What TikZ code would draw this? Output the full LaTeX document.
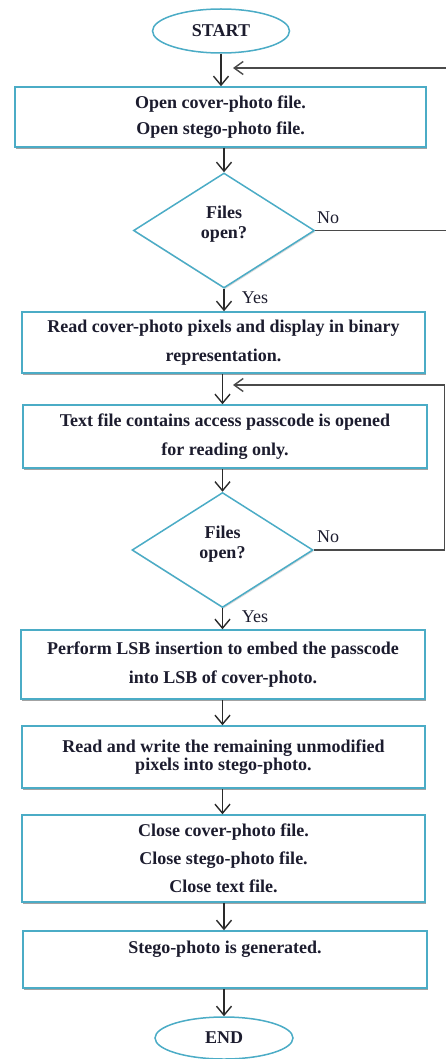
\documentclass[tikz,border=0pt]{standalone}
\usepackage{fontspec}
\setmainfont{Liberation Serif}
\usetikzlibrary{shapes.geometric,arrows.meta,shadows}

\definecolor{boxblue}{HTML}{4BACC6}
\definecolor{inkdark}{HTML}{1C1C2E}
\definecolor{flowline}{HTML}{2A2A2A}
\definecolor{loopline}{HTML}{4A4A4A}

\tikzset{
  proc/.style={rectangle, draw=boxblue, line width=1.5pt, fill=white,
    align=center, inner sep=0pt, text=inkdark,
    font=\fontsize{18}{22}\selectfont\bfseries,
    drop shadow={shadow xshift=0.8pt, shadow yshift=-2pt, fill=black!45, opacity=0.8}},
  term/.style={ellipse, draw=boxblue, line width=1.5pt, fill=white,
    inner sep=0pt, text=inkdark, font=\fontsize{18}{22}\selectfont\bfseries},
  decide/.style={diamond, draw=boxblue, line width=1.5pt, fill=white,
    inner sep=0pt, minimum width=181pt, minimum height=115pt,
    drop shadow={shadow xshift=0.8pt, shadow yshift=-1.5pt, fill=black!25, opacity=0.6}},
  dtext/.style={align=center, inner sep=0pt, text=inkdark,
    font=\fontsize{18}{22}\selectfont\bfseries},
  lbl/.style={inner sep=0pt, text=inkdark, font=\fontsize{18}{22}\selectfont},
  arr/.style={draw=flowline, line width=1.4pt,
    -{Straight Barb[length=9pt,width=15pt,line width=1.4pt]}},
  looparr/.style={draw=loopline, line width=1.8pt,
    -{Straight Barb[length=9pt,width=13pt,line width=1.4pt]}},
}

\begin{document}
\begin{tikzpicture}[x=1pt,y=-1pt]
\useasboundingbox (0,0) rectangle (446,1059);

% terminals
\node[term, minimum width=137pt, minimum height=44pt] (start) at (221,31) {START};
\node[term, minimum width=138pt, minimum height=42pt] (end) at (224,1038) {END};

% process steps
\node[proc, minimum width=411pt, minimum height=60pt] (b1) at (220.5,117)
  {Open cover-photo file.\\[4pt]Open stego-photo file.};
\node[decide] (d1) at (224,230.5) {};
\node[dtext] (d1t) at ([yshift=6pt]d1.center) {Files\\[-2pt]open?};

\node[proc, minimum width=403pt, minimum height=61pt] (b2) at (223.5,342.5)
  {Read cover-photo pixels and display in binary\\[7pt]representation.};
\node[proc, minimum width=404pt, minimum height=63pt] (b3) at (225,436.5)
  {Text file contains access passcode is opened\\[7pt]for reading only.};
\node[decide] (d2) at (222.5,550) {};
\node[dtext] (d2t) at ([yshift=6pt]d2.center) {Files\\[-2pt]open?};

\node[proc, minimum width=404pt, minimum height=69pt] (b4) at (223,664.5)
  {Perform LSB insertion to embed the passcode\\[7pt]into LSB of cover-photo.};
\node[proc, minimum width=403pt, minimum height=62pt] (b5) at (223.5,757)
  {Read and write the remaining unmodified\\[-4pt]pixels into stego-photo.};
\node[proc, minimum width=403pt, minimum height=87pt] (b6) at (223.5,858.5)
  {Close cover-photo file.\\[6pt]Close stego-photo file.\\[6pt]Close text file.};
\node[proc, minimum width=404pt, minimum height=57pt] (b7) at (225,959.5)
  {Stego-photo is generated.\\[3pt]~};

% branch labels
\node[lbl] (no1) at (328,218) {No};
\node[lbl] (yes1) at (255,298) {Yes};
\node[lbl] (no2) at (328,537) {No};
\node[lbl] (yes2) at (255,617) {Yes};

% main flow
\draw[arr] (start.south) -- (start.south |- b1.north);
\draw[arr] (b1.south -| d1.north) -- (d1.north);
\draw[arr] (d1.south) -- (d1.south |- b2.north);
\draw[arr] (b2.south -| d2.north) -- (d2.north |- b3.north);
\draw[arr] (b3.south -| d2.north) -- (d2.north);
\draw[arr] (d2.south) -- (d2.south |- b4.north);
\draw[arr] (b4.south -| d2.north) -- (d2.north |- b5.north);
\draw[arr] (b5.south -| d2.north) -- (d2.north |- b6.north);
\draw[arr] (b6.south -| end.north) -- (end.north |- b7.north);
\draw[arr] (b7.south -| end.north) -- (end.north);

% return paths for the "No" branches
\coordinate (j1) at (233,68);
\coordinate (r1) at (448,68);
\draw[looparr] (d1.east) -- (d1.east -| r1) -- (r1) -- (j1);

\coordinate (j2) at (233,385);
\coordinate (r2) at (444.5,385);
\draw[looparr] (d2.east) -- (d2.east -| r2) -- (r2) -- (j2);
\end{tikzpicture}
\end{document}
